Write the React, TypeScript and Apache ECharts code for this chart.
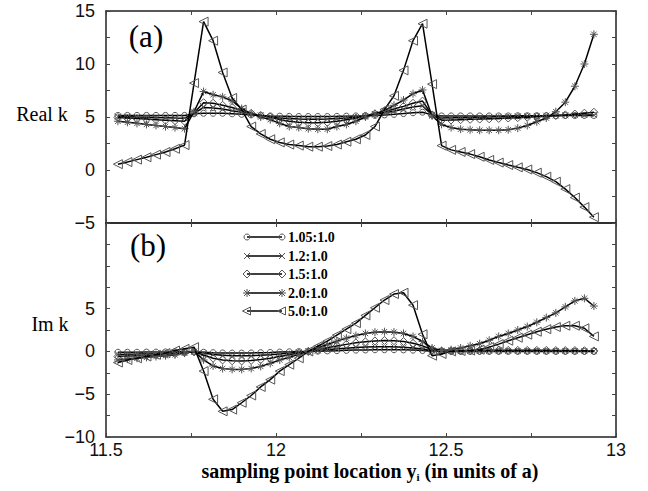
import React, { useEffect, useRef } from 'react';
import * as echarts from 'echarts';

// sampling point locations y_i (in units of a)
const xs = [
  11.535, 11.563, 11.591, 11.619, 11.647, 11.675, 11.703, 11.731, 11.759, 11.787,
  11.815, 11.843, 11.871, 11.899, 11.927, 11.955, 11.983, 12.011, 12.039, 12.067,
  12.095, 12.123, 12.151, 12.179, 12.207, 12.235, 12.263, 12.291, 12.319, 12.347,
  12.375, 12.403, 12.431, 12.459, 12.487, 12.515, 12.543, 12.571, 12.599, 12.627,
  12.655, 12.683, 12.711, 12.739, 12.767, 12.795, 12.823, 12.851, 12.879, 12.907,
  12.935,
];

const seriesNames = ['1.05:1.0', '1.2:1.0', '1.5:1.0', '2.0:1.0', '5.0:1.0'];

// Real k
const real105 = [
  5.15, 5.15, 5.15, 5.15, 5.15, 5.15, 5.15, 5.15,
  5.3, 5.35, 5.35, 5.35, 5.3, 5.25, 5.2, 5.15, 5.1, 5.08, 5.06, 5.05, 5.05, 5.05, 5.05,
  5.06, 5.08, 5.1, 5.12, 5.15, 5.2, 5.25, 5.32, 5.4, 5.45, 5.2,
  5.1, 5.1, 5.1, 5.1, 5.1, 5.1, 5.1, 5.1, 5.12, 5.12, 5.12, 5.12, 5.12, 5.14, 5.14, 5.15, 5.15,
];
const real12 = [
  5.05, 5.03, 5.0, 4.98, 4.95, 4.93, 4.9, 4.88,
  5.35, 5.9, 5.85, 5.75, 5.6, 5.45, 5.3, 5.15, 5.0, 4.9, 4.85, 4.8, 4.78, 4.78, 4.8,
  4.85, 4.9, 5.0, 5.1, 5.25, 5.4, 5.55, 5.75, 5.95, 6.05, 5.2,
  4.9, 4.92, 4.94, 4.96, 4.98, 5.0, 5.02, 5.04, 5.06, 5.08, 5.1, 5.12, 5.14, 5.16, 5.18, 5.2, 5.2,
];
const real15 = [
  4.95, 4.9, 4.85, 4.8, 4.75, 4.7, 4.65, 4.6,
  5.4, 6.35, 6.3, 6.1, 5.9, 5.6, 5.35, 5.15, 5.0, 4.75, 4.6, 4.5, 4.45, 4.45, 4.5,
  4.6, 4.75, 4.9, 5.1, 5.3, 5.5, 5.75, 6.0, 6.3, 6.5, 5.2,
  4.7, 4.72, 4.75, 4.78, 4.8, 4.83, 4.86, 4.9, 4.94, 4.98, 5.02, 5.08, 5.14, 5.2, 5.28, 5.36, 5.45,
];
const real20 = [
  4.6, 4.5, 4.4, 4.3, 4.2, 4.1, 4.0, 3.9,
  5.5, 7.4, 7.1, 6.9, 6.5, 5.8, 5.3, 5.0, 4.75, 4.4, 4.1, 4.0, 3.9, 3.85, 3.85,
  4.1, 4.3, 4.6, 5.0, 5.3, 5.6, 6.1, 6.6, 7.2, 7.55, 5.1,
  4.3, 4.0, 3.85, 3.8, 3.75, 3.75, 3.75, 3.8, 3.95, 4.2, 4.55, 4.9, 5.5, 6.4, 7.9, 10.0, 12.8,
];
const real50 = [
  0.55, 0.75, 0.98, 1.2, 1.45, 1.7, 2.0, 2.35,
  8.2, 14.0, 12.2, 9.2, 6.8, 5.7, 4.1, 3.4, 2.9, 2.6, 2.4, 2.3, 2.2, 2.2, 2.26,
  2.4, 2.67, 2.9, 3.3, 4.1, 5.7, 7.0, 9.4, 12.2, 13.8, 8.1,
  2.3, 1.9, 1.7, 1.5, 1.25, 0.95, 0.7, 0.47, 0.25, 0.05, -0.25, -0.63, -1.1, -1.8, -2.6, -3.5, -4.45,
];

// Im k
const imag105 = [
  -0.1, -0.1, -0.1, -0.08, -0.08, -0.06, -0.05, -0.05,
  -0.05, -0.1, -0.15, -0.18, -0.2, -0.2, -0.18, -0.15, -0.12, -0.08, -0.05, -0.02, 0.0, 0.03, 0.06,
  0.09, 0.12, 0.15, 0.17, 0.19, 0.2, 0.2, 0.18, 0.15, 0.1, 0.02,
  0.0, 0.0, 0.0, 0.0, 0.0, 0.0, 0.0, 0.0, 0.0, 0.0, 0.0, 0.0, 0.0, 0.0, 0.0, 0.0, 0.0,
];
const imag12 = [
  -0.35, -0.32, -0.3, -0.27, -0.24, -0.2, -0.15, -0.1,
  -0.05, -0.2, -0.35, -0.45, -0.5, -0.52, -0.5, -0.45, -0.38, -0.3, -0.2, -0.1, 0.0, 0.1, 0.2,
  0.3, 0.38, 0.45, 0.5, 0.53, 0.55, 0.53, 0.48, 0.4, 0.28, 0.08,
  0.02, 0.03, 0.04, 0.05, 0.05, 0.06, 0.06, 0.06, 0.06, 0.06, 0.06, 0.05, 0.05, 0.05, 0.04, 0.04, 0.03,
];
const imag15 = [
  -0.6, -0.55, -0.5, -0.45, -0.4, -0.32, -0.25, -0.15,
  -0.05, -0.45, -0.8, -1.0, -1.1, -1.12, -1.05, -0.95, -0.8, -0.6, -0.4, -0.2, 0.0, 0.2, 0.42,
  0.62, 0.82, 1.0, 1.12, 1.22, 1.28, 1.25, 1.15, 0.95, 0.65, 0.2,
  0.05, 0.06, 0.08, 0.1, 0.1, 0.12, 0.12, 0.12, 0.12, 0.12, 0.12, 0.12, 0.1, 0.1, 0.1, 0.08, 0.06,
];
const imag20 = [
  -1.0, -0.9, -0.8, -0.7, -0.6, -0.5, -0.4, -0.2,
  0.0, -1.0, -1.7, -2.0, -2.1, -2.1, -2.0, -1.75, -1.4, -1.0, -0.7, -0.35, 0.0, 0.4, 0.8,
  1.2, 1.55, 1.85, 2.1, 2.25, 2.3, 2.25, 2.1, 1.75, 1.15, 0.4,
  0.1, 0.2, 0.4, 0.65, 0.9, 1.3, 1.75, 2.1, 2.5, 2.9, 3.4, 3.95, 4.5, 5.2, 5.9, 6.2, 5.3,
];
const imag50 = [
  -1.3, -1.0, -0.8, -0.6, -0.4, -0.2, 0.1, 0.3,
  0.5, -2.3, -5.6, -7.0, -6.8, -6.0, -5.15, -4.15, -3.3, -2.3, -1.55, -0.8, 0.0, 0.6, 1.2,
  1.9, 2.6, 3.3, 4.2, 5.1, 6.0, 6.7, 6.85, 5.4, 2.0, -0.5,
  -0.3, 0.0, 0.05, 0.1, 0.2, 0.5, 0.85, 1.25, 1.6, 1.95, 2.3, 2.6, 2.85, 3.0, 3.0, 2.7, 1.75,
];

const realSets = [real105, real12, real15, real20, real50];
const imagSets = [imag105, imag12, imag15, imag20, imag50];

const xTickLabels = ['11.5', '12', '12.5', '13'];
const realTickLabels = [-5, 0, 5, 10, 15];
const imagTickLabels = [-10, -5, 0, 5];

const CROSS = 'path://M0,0L10,10M10,0L0,10';
const STAR = 'path://M5,0L5,10M0,5L10,5M1.6,1.6L8.4,8.4M8.4,1.6L1.6,8.4';
const markerDefs = [
  { symbol: 'circle', size: 6, rotate: 0 },
  { symbol: CROSS, size: 6, rotate: 0 },
  { symbol: 'diamond', size: 8, rotate: 0 },
  { symbol: STAR, size: 8, rotate: 0 },
  { symbol: 'triangle', size: 9, rotate: 90 },
];

const AX = '#222';
const MK = '#555';
const SANS = '"Liberation Sans", Arial, sans-serif';
const SERIF = '"Liberation Serif", "Times New Roman", serif';

const fmtNum = (v: number) => (v < 0 ? '\u2212' + Math.abs(v) : String(v));

function legendMarker(kind: number, x: number, y: number): any {
  const st = { fill: 'none', stroke: MK, lineWidth: 1 };
  if (kind === 0) return { type: 'circle', shape: { cx: x, cy: y, r: 3 }, style: st };
  if (kind === 1)
    return {
      type: 'group',
      children: [
        { type: 'line', shape: { x1: x - 3, y1: y - 3, x2: x + 3, y2: y + 3 }, style: st },
        { type: 'line', shape: { x1: x + 3, y1: y - 3, x2: x - 3, y2: y + 3 }, style: st },
      ],
    };
  if (kind === 2)
    return { type: 'polygon', shape: { points: [[x, y - 4], [x + 4, y], [x, y + 4], [x - 4, y]] }, style: st };
  if (kind === 3)
    return {
      type: 'group',
      children: [
        { type: 'line', shape: { x1: x - 4, y1: y, x2: x + 4, y2: y }, style: st },
        { type: 'line', shape: { x1: x, y1: y - 4, x2: x, y2: y + 4 }, style: st },
        { type: 'line', shape: { x1: x - 3, y1: y - 3, x2: x + 3, y2: y + 3 }, style: st },
        { type: 'line', shape: { x1: x + 3, y1: y - 3, x2: x - 3, y2: y + 3 }, style: st },
      ],
    };
  return { type: 'polygon', shape: { points: [[x - 4.5, y], [x + 3.5, y - 4], [x + 3.5, y + 4]] }, style: st };
}

export default function App() {
  const ref = useRef<HTMLDivElement>(null);
  useEffect(() => {
    if (!ref.current) return;
    const chart = echarts.init(ref.current, undefined, { renderer: 'svg' });

    const L = 106, R = 616, T1 = 11, B1 = 223, B2 = 437;

    const baseX = (gridIndex: number, position: 'top' | 'bottom', showLabel: boolean) => ({
      type: 'value',
      gridIndex,
      position,
      min: 11.5,
      max: 13,
      interval: 0.25,
      splitLine: { show: false },
      axisLine: { show: true, onZero: false, lineStyle: { color: AX, width: 1.5 } },
      axisTick: { show: true, inside: true, length: 4, lineStyle: { color: '#444' } },
      axisLabel: {
        show: showLabel,
        margin: 4,
        color: '#111',
        fontFamily: SANS,
        fontSize: 18,
        formatter: (v: number) => {
          const s = String(v);
          return xTickLabels.indexOf(s) >= 0 ? s : '';
        },
      },
    });
    const baseY = (
      gridIndex: number,
      position: 'left' | 'right',
      min: number,
      max: number,
      labels: number[] | null
    ) => ({
      type: 'value',
      gridIndex,
      position,
      min,
      max,
      interval: 2.5,
      splitLine: { show: false },
      axisLine: { show: true, onZero: false, lineStyle: { color: AX, width: 1.5 } },
      axisTick: { show: true, inside: true, length: 4, lineStyle: { color: '#444' } },
      axisLabel: {
        show: !!labels,
        margin: 11,
        color: '#111',
        fontFamily: SANS,
        fontSize: 18,
        formatter: (v: number) => (labels && labels.indexOf(v) >= 0 ? fmtNum(v) : ''),
      },
    });

    const series: any[] = [];
    const addSeries = (sets: number[][], axisIdx: number) => {
      sets.forEach((vals, k) => {
        series.push({
          type: 'line',
          name: seriesNames[k],
          xAxisIndex: axisIdx,
          yAxisIndex: axisIdx,
          data: xs.map((x, i) => [x, vals[i]]),
          symbol: markerDefs[k].symbol,
          symbolSize: markerDefs[k].size,
          symbolRotate: markerDefs[k].rotate,
          showAllSymbol: true,
          lineStyle: { color: '#000', width: 1.5 },
          itemStyle: { color: 'rgba(0,0,0,0)', borderColor: MK, borderWidth: 1 },
          z: 2 + k,
        });
      });
    };
    addSeries(realSets, 0);
    addSeries(imagSets, 1);

    const legendY = [237, 256, 274, 293, 311];
    const legendGraphics: any[] = [];
    seriesNames.forEach((name, k) => {
      const y = legendY[k];
      legendGraphics.push({ type: 'line', shape: { x1: 247, y1: y, x2: 282, y2: y }, style: { stroke: '#000', lineWidth: 1.5 } });
      legendGraphics.push(legendMarker(k, 247, y));
      legendGraphics.push(legendMarker(k, 282, y));
      legendGraphics.push({
        type: 'text',
        x: 288,
        y,
        style: { text: name, font: 'bold 14px ' + SERIF, fill: '#000', verticalAlign: 'middle' },
      });
    });

    const option: any = {
      animation: false,
      backgroundColor: '#fff',
      grid: [
        { left: L, top: T1, width: R - L, height: B1 - T1, show: false },
        { left: L, top: B1, width: R - L, height: B2 - B1, show: false },
      ],
      xAxis: [baseX(0, 'bottom', false), baseX(1, 'bottom', true), baseX(0, 'top', false), baseX(1, 'top', false)],
      yAxis: [
        baseY(0, 'left', -5, 15, realTickLabels),
        baseY(1, 'left', -10, 15, imagTickLabels),
        baseY(0, 'right', -5, 15, null),
        baseY(1, 'right', -10, 15, null),
      ],
      series,
      graphic: [
        { type: 'text', x: 146, y: 36, style: { text: '(a)', font: '31px ' + SERIF, fill: '#000', align: 'center', verticalAlign: 'middle' } },
        { type: 'text', x: 148, y: 245, style: { text: '(b)', font: '31px ' + SERIF, fill: '#000', align: 'center', verticalAlign: 'middle' } },
        { type: 'text', x: 42, y: 114, style: { text: 'Real k', font: '20px ' + SERIF, fill: '#000', align: 'center', verticalAlign: 'middle' } },
        { type: 'text', x: 50, y: 324, style: { text: 'Im k', font: '20px ' + SERIF, fill: '#000', align: 'center', verticalAlign: 'middle' } },
        {
          type: 'text',
          x: 370,
          y: 471,
          style: {
            text: 'sampling point location y{sub|i} (in units of a)',
            font: 'bold 20px ' + SERIF,
            fill: '#000',
            align: 'center',
            verticalAlign: 'middle',
            rich: { sub: { font: 'bold 11px ' + SERIF, fill: '#000', verticalAlign: 'bottom', padding: [11, 0, 0, 0] } },
          },
        },
        ...legendGraphics,
      ],
    };
    chart.setOption(option);
    return () => chart.dispose();
  }, []);
  return <div ref={ref} style={{ position: 'absolute', left: 0, top: 0, width: 648, height: 491 }} />;
}
